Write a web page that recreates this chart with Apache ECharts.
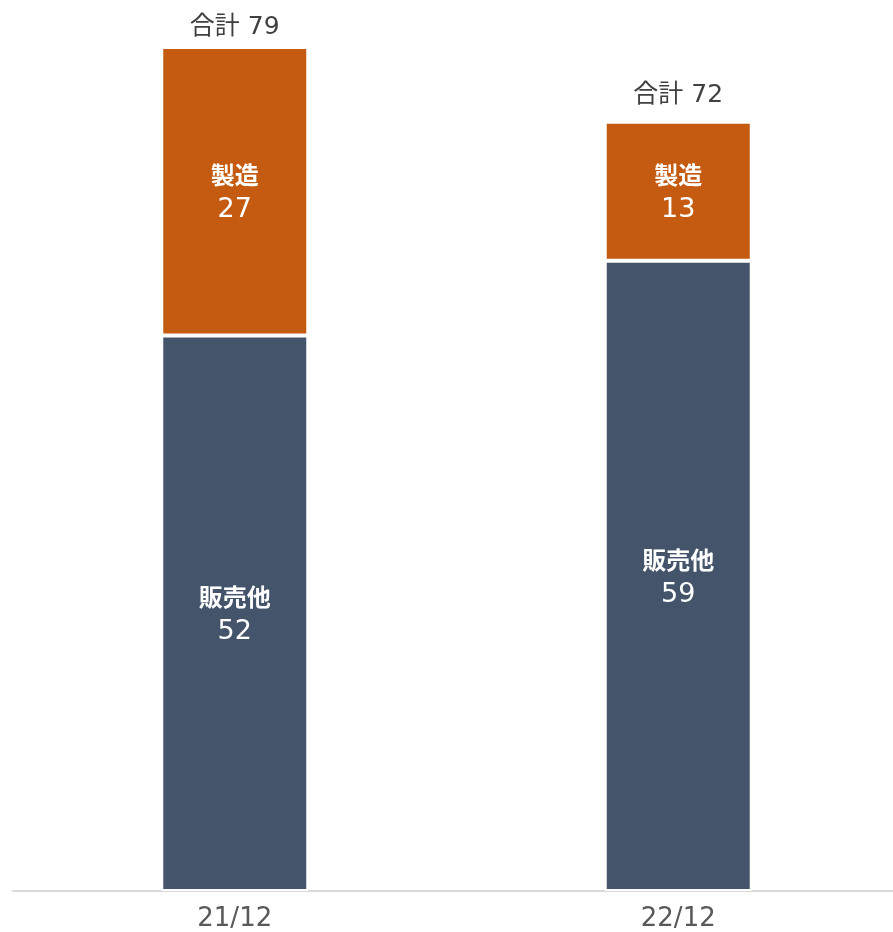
<!DOCTYPE html>
<html>
<head>
<meta charset="utf-8">
<script src="https://cdn.jsdelivr.net/npm/echarts@6/dist/echarts.min.js"></script>
<style>
  html, body { margin: 0; padding: 0; background: #fff; }
  #chart { width: 893px; height: 932px; }
</style>
</head>
<body>
<div id="chart"></div>
<script>
// Periods on the category axis
const periods = ['21/12', '22/12'];
// Segment names and values (bottom to top)
const salesName = '販売他';
const salesValues = [52, 59];
const mfgName = '製造';
const mfgValues = [27, 13];

// Stack totals shown above each bar
const totals = periods.map((_, i) => salesValues[i] + mfgValues[i]);

// Wide Latin digits, CJK glyphs fall back to Noto Sans CJK
const FONT = '"DejaVu Sans", "Noto Sans CJK JP", sans-serif';

function insideLabel(name) {
  return {
    show: true,
    position: 'inside',
    offset: [0, 3],
    formatter: p => '{n|' + name + '}\n{v|' + p.value + '}',
    rich: {
      n: { fontSize: 24, fontWeight: 'bold', color: '#fff', fontFamily: FONT, lineHeight: 32 },
      v: { fontSize: 27, color: '#fff', fontFamily: FONT, lineHeight: 32 }
    }
  };
}

// Total label sits a little closer to the tallest bar, which reaches the top edge
const tallest = totals.indexOf(Math.max(...totals));

const chart = echarts.init(document.getElementById('chart'));
chart.setOption({
  animation: false,
  grid: { left: 13, width: 887, top: 47, bottom: 41, containLabel: false, outerBoundsMode: 'none' },
  xAxis: {
    type: 'category',
    data: periods,
    axisLine: { lineStyle: { color: '#d9d9d9', width: 2 } },
    axisTick: { show: false },
    axisLabel: { fontSize: 26, color: '#595959', fontFamily: FONT, margin: 15 }
  },
  yAxis: {
    type: 'value',
    min: 0,
    max: Math.max(...totals),
    show: false,
    splitLine: { show: false }
  },
  series: [
    {
      name: salesName,
      type: 'bar',
      stack: 'total',
      data: salesValues,
      barWidth: 147,
      itemStyle: { color: '#44546A', borderColor: '#fff', borderWidth: 2 },
      label: insideLabel(salesName)
    },
    {
      name: mfgName,
      type: 'bar',
      stack: 'total',
      data: mfgValues,
      barWidth: 147,
      itemStyle: { color: '#C55A11', borderColor: '#fff', borderWidth: 2 },
      label: insideLabel(mfgName)
    },
    {
      name: '合計',
      type: 'bar',
      stack: 'total',
      data: periods.map((_, i) => ({ value: 0, label: { distance: i === tallest ? 7 : 14 } })),
      barWidth: 147,
      itemStyle: { color: 'transparent' },
      label: {
        show: true,
        position: 'top',
        formatter: p => '合計 ' + totals[p.dataIndex],
        fontSize: 25,
        color: '#404040',
        fontFamily: FONT
      }
    }
  ]
});
</script>
</body>
</html>
